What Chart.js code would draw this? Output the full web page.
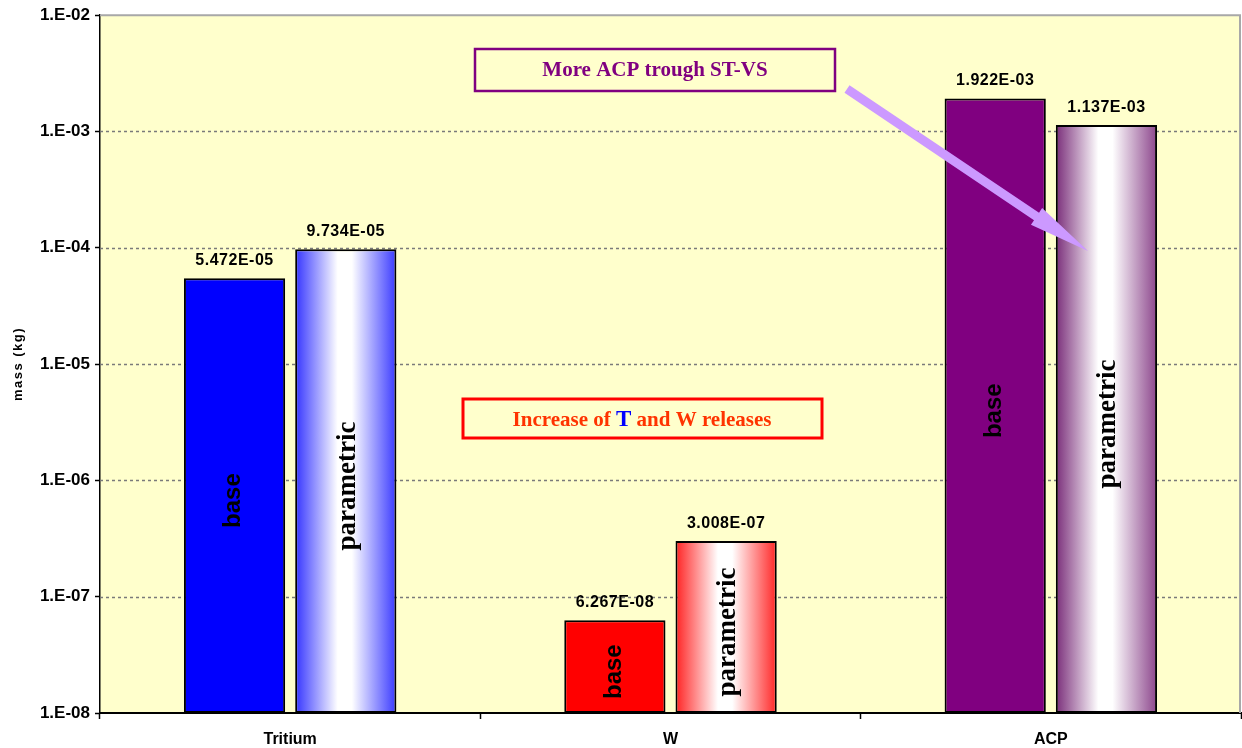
<!DOCTYPE html>
<html>
<head>
<meta charset="utf-8">
<script src="https://cdn.jsdelivr.net/npm/chart.js@4.4.0/dist/chart.umd.min.js"></script>
<style>
  html, body { margin: 0; padding: 0; background: #ffffff; }
  #wrap { width: 1242px; height: 748px; }
</style>
</head>
<body>
<div id="wrap"><canvas id="c" width="1242" height="748"></canvas></div>
<script>
// Released masses per species, base vs parametric case (kg)
const categories = ['Tritium', 'W', 'ACP'];
const seriesNames = ['base', 'parametric'];
const baseValues = [5.472e-5, 6.267e-8, 1.922e-3];
const parametricValues = [9.734e-5, 3.008e-7, 1.137e-3];
const yTickExponents = [-8, -7, -6, -5, -4, -3, -2];

// Styling
const baseColors = ['#0000FF', '#FF0000', '#800080'];
const parametricEdges = [['#3434FF', '#3A3AFF'], ['#FF2222', '#FF2626'], ['#7A2E7A', '#8C468C']];
const PLOT_BG = '#FFFFCC';
const CAT_PCT = 0.585;
const BAR_PCT = 0.91;
const SANS = '"Liberation Sans", Arial, sans-serif';
const SERIF = '"Liberation Serif", "Times New Roman", serif';

const decadeLabel = v => {
  const e = Math.round(Math.log10(v));
  return '1.E' + (e < 0 ? '-' : '+') + String(Math.abs(e)).padStart(2, '0');
};
const valueLabel = v => {
  const [m, e] = v.toExponential(3).split('e');
  const n = parseInt(e, 10);
  return m + 'E' + (n < 0 ? '-' : '+') + String(Math.abs(n)).padStart(2, '0');
};

// Horizontal white-centre gradient for the parametric bars
function parametricFill(context) {
  const chart = context.chart;
  const xs = chart.scales && chart.scales.x;
  if (!chart.chartArea || !xs || context.type !== 'data') return '#ffffff';
  const i = context.dataIndex;
  const catW = xs.width / categories.length;
  const slot = catW * CAT_PCT / 2;
  const cx = xs.getPixelForValue(i) + slot / 2;
  const w = slot * BAR_PCT;
  const g = chart.ctx.createLinearGradient(cx - w / 2, 0, cx + w / 2, 0);
  const [l, r] = parametricEdges[i];
  g.addColorStop(0, l);
  g.addColorStop(0.42, '#FFFFFF');
  g.addColorStop(0.56, '#FFFFFF');
  g.addColorStop(1, r);
  return g;
}

const decorations = {
  id: 'decorations',
  beforeDraw(chart) {
    const { ctx, chartArea: a } = chart;
    ctx.save();
    ctx.fillStyle = PLOT_BG;
    ctx.fillRect(a.left, a.top, a.right - a.left, a.bottom - a.top);
    ctx.restore();
  },
  beforeDatasetsDraw(chart) {
    const { ctx, chartArea: a, scales: { y } } = chart;
    ctx.save();
    // dashed decade gridlines
    ctx.strokeStyle = '#7A7A7A';
    ctx.lineWidth = 1.5;
    ctx.setLineDash([3, 3]);
    yTickExponents.slice(1, -1).forEach(e => {
      const py = Math.round(y.getPixelForValue(Math.pow(10, e))) + 0.5;
      ctx.beginPath(); ctx.moveTo(a.left, py); ctx.lineTo(a.right, py); ctx.stroke();
    });
    // plot area frame top and right
    ctx.setLineDash([]);
    ctx.strokeStyle = '#A8A8A8';
    ctx.lineWidth = 2;
    ctx.beginPath();
    ctx.moveTo(a.left, a.top); ctx.lineTo(a.right - 1, a.top); ctx.lineTo(a.right - 1, a.bottom);
    ctx.stroke();
    ctx.restore();
  },
  afterDatasetsDraw(chart) {
    const { ctx } = chart;
    ctx.save();
    chart.data.datasets.forEach((ds, di) => {
      const meta = chart.getDatasetMeta(di);
      meta.data.forEach((bar, i) => {
        const { x, y, base } = bar.getProps(['x', 'y', 'base'], true);
        // series name written along the bar
        ctx.save();
        ctx.translate(x + (di === 0 ? -1 : 2), (y + base) / 2 + 5);
        ctx.rotate(-Math.PI / 2);
        ctx.font = di === 0 ? 'bold 24px ' + SANS : 'bold 27px ' + SERIF;
        ctx.textAlign = 'center';
        ctx.textBaseline = 'middle';
        ctx.fillStyle = '#000000';
        ctx.fillText(ds.label, 0, 0);
        ctx.restore();
        // value above the bar
        ctx.save();
        ctx.font = 'bold 16px ' + SANS;
        ctx.letterSpacing = '0.5px';
        ctx.textAlign = 'center';
        ctx.textBaseline = 'alphabetic';
        ctx.fillStyle = '#000000';
        ctx.fillText(valueLabel(ds.data[i]), x, y - 13);
        ctx.restore();
      });
    });
    ctx.restore();
  },
  afterDraw(chart) {
    const { ctx } = chart;
    ctx.save();

    // y-axis title
    ctx.save();
    ctx.translate(18, 364);
    ctx.rotate(-Math.PI / 2);
    ctx.font = 'bold 13px ' + SANS;
    ctx.letterSpacing = '1.5px';
    ctx.textAlign = 'center';
    ctx.textBaseline = 'middle';
    ctx.fillStyle = '#000000';
    ctx.fillText('mass (kg)', 0, 0);
    ctx.restore();

    // note box: ACP
    ctx.fillStyle = PLOT_BG;
    ctx.fillRect(475, 49, 360, 42);
    ctx.strokeStyle = '#800080';
    ctx.lineWidth = 2.5;
    ctx.strokeRect(475, 49, 360, 42);
    ctx.font = 'bold 21px ' + SERIF;
    ctx.textAlign = 'center';
    ctx.textBaseline = 'middle';
    ctx.fillStyle = '#800080';
    ctx.fillText('More ACP trough ST-VS', 655, 71);

    // note box: T and W
    ctx.fillStyle = PLOT_BG;
    ctx.fillRect(463, 399, 359, 39);
    ctx.strokeStyle = '#FF0000';
    ctx.lineWidth = 3;
    ctx.strokeRect(463, 399, 359, 39);
    const parts = [
      ['Increase of ', '#FF3300', 'bold 21px ' + SERIF],
      ['T', '#0000FF', 'bold 23px ' + SERIF],
      [' and W releases', '#FF3300', 'bold 21px ' + SERIF]
    ];
    let total = 0;
    parts.forEach(p => { ctx.font = p[2]; total += ctx.measureText(p[0]).width; });
    let px = 642 - total / 2;
    ctx.textAlign = 'left';
    ctx.textBaseline = 'alphabetic';
    parts.forEach(p => {
      ctx.font = p[2];
      ctx.fillStyle = p[1];
      ctx.fillText(p[0], px, 426);
      px += ctx.measureText(p[0]).width;
    });

    // arrow towards ACP parametric bar
    const x0 = 847, y0 = 89, x1 = 1088, y1 = 251;
    const shaftW = 9, headL = 62, headW = 20;
    const dx = x1 - x0, dy = y1 - y0, len = Math.hypot(dx, dy);
    const ux = dx / len, uy = dy / len, nx = -uy, ny = ux;
    const bx = x1 - ux * headL, by = y1 - uy * headL;
    ctx.fillStyle = '#CC99FF';
    ctx.beginPath();
    ctx.moveTo(x0 + nx * shaftW / 2, y0 + ny * shaftW / 2);
    ctx.lineTo(bx + nx * shaftW / 2, by + ny * shaftW / 2);
    ctx.lineTo(bx + nx * headW / 2, by + ny * headW / 2);
    ctx.lineTo(x1, y1);
    ctx.lineTo(bx - nx * headW / 2, by - ny * headW / 2);
    ctx.lineTo(bx - nx * shaftW / 2, by - ny * shaftW / 2);
    ctx.lineTo(x0 - nx * shaftW / 2, y0 - ny * shaftW / 2);
    ctx.closePath();
    ctx.fill();

    ctx.restore();
  }
};

new Chart(document.getElementById('c'), {
  type: 'bar',
  data: {
    labels: categories,
    datasets: [
      {
        label: seriesNames[0],
        data: baseValues,
        backgroundColor: baseColors,
        borderColor: '#000000',
        borderWidth: 2,
        borderSkipped: false,
        categoryPercentage: CAT_PCT,
        barPercentage: BAR_PCT
      },
      {
        label: seriesNames[1],
        data: parametricValues,
        backgroundColor: parametricFill,
        borderColor: '#000000',
        borderWidth: 2,
        borderSkipped: false,
        categoryPercentage: CAT_PCT,
        barPercentage: BAR_PCT
      }
    ]
  },
  options: {
    responsive: false,
    animation: false,
    devicePixelRatio: 1,
    layout: { padding: { top: 15, right: 1, left: 0, bottom: 0 } },
    plugins: { legend: { display: false }, tooltip: { enabled: false } },
    scales: {
      x: {
        afterFit: s => { s.height = 35; },
        grid: { offset: true, drawOnChartArea: false, tickLength: 6, tickColor: '#000000', tickWidth: 1.5 },
        border: { color: '#000000', width: 2 },
        ticks: { color: '#000000', font: { family: SANS, size: 16, weight: 'bold' }, padding: 11 }
      },
      y: {
        type: 'logarithmic',
        min: 1e-8,
        max: 1e-2,
        afterFit: s => { s.width = 100; },
        afterBuildTicks: s => { s.ticks = yTickExponents.map(e => ({ value: Math.pow(10, e) })); },
        grid: { drawOnChartArea: false, tickLength: 5, tickColor: '#000000', tickWidth: 1.5 },
        border: { color: '#000000', width: 1.5 },
        ticks: {
          color: '#000000',
          font: { family: SANS, size: 17, weight: 'bold' },
          padding: 5,
          autoSkip: false,
          callback: v => decadeLabel(v)
        }
      }
    }
  },
  plugins: [decorations]
});
</script>
</body>
</html>
